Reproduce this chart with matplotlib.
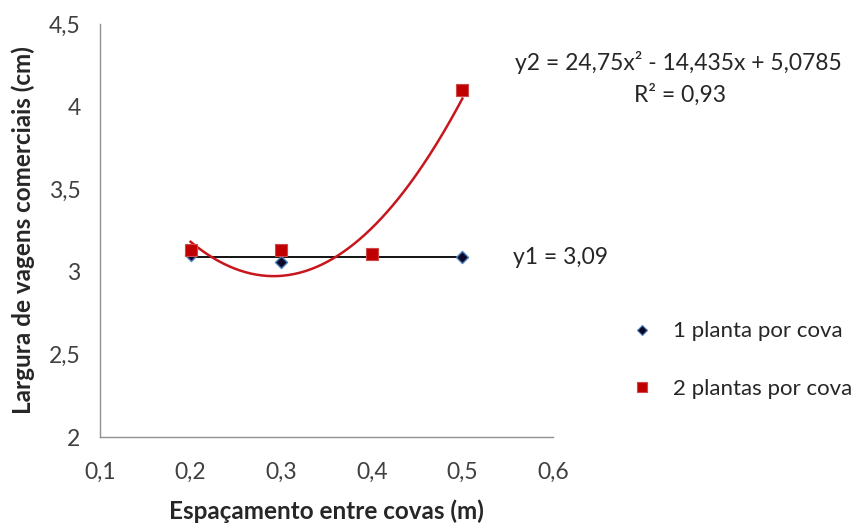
import numpy as np
import matplotlib.pyplot as plt
from matplotlib.lines import Line2D

# espaçamento (m) e largura de vagens (cm)
espacamento = [0.2, 0.3, 0.4, 0.5]
uma_planta = [3.10, 3.06, 3.11, 3.09]
duas_plantas = [3.13, 3.13, 3.11, 4.10]

# ajustes
y1_media = 3.09
coef_y2 = [24.75, -14.435, 5.0785]
r2_y2 = 0.93

x_ticks = [0.1, 0.2, 0.3, 0.4, 0.5, 0.6]
y_ticks = [2, 2.5, 3, 3.5, 4, 4.5]

plt.rcParams['font.family'] = ['Lato', 'DejaVu Sans']

fig = plt.figure(figsize=(8.66, 5.26), dpi=100)
ax = fig.add_axes([0.1155, 0.1692, 0.523, 0.7852])

# linha da média (1 planta) e curva quadrática (2 plantas)
ax.plot([espacamento[0], espacamento[-1]], [y1_media, y1_media],
        color='black', lw=1.3, zorder=2)
xs = np.linspace(espacamento[0], espacamento[-1], 200)
ax.plot(xs, np.polyval(coef_y2, xs), color='#C8161D', lw=1.8, zorder=2)

ax.scatter(espacamento, uma_planta, marker='D', s=38, color='#0A0A28',
           edgecolors='#4F81BD', linewidths=1.0, zorder=3)
ax.scatter(espacamento, duas_plantas, marker='s', s=70, color='#C00000',
           edgecolors='#D04848', linewidths=0.8, zorder=4)

ax.set_xlim(0.1, 0.6)
ax.set_ylim(2, 4.5)
ax.set_xticks(x_ticks)
ax.set_yticks(y_ticks)
ax.set_xticklabels([f'{v:g}'.replace('.', ',') for v in x_ticks])
ax.set_yticklabels([f'{v:g}'.replace('.', ',') for v in y_ticks])
ax.tick_params(length=0, labelsize=16.5, colors='#404040', pad=14)
ax.tick_params(axis='x', pad=18)

for s in ['top', 'right']:
    ax.spines[s].set_visible(False)
for s in ['left', 'bottom']:
    ax.spines[s].set_color('#909090')
    ax.spines[s].set_linewidth(1.0)

ax.set_xlabel('Espaçamento entre covas (m)', fontsize=17.5, fontweight='bold',
              color='#262626', labelpad=12)
ax.set_ylabel('Largura de vagens comerciais (cm)', fontsize=17.5,
              fontweight='bold', color='#262626', labelpad=10)

# equações
fig.text(0.783, 0.882, 'y2 = 24,75x² - 14,435x + 5,0785', fontsize=16.5,
         color='#262626', ha='center', va='center')
fig.text(0.785, 0.819, 'R² = 0,93', fontsize=16.5, color='#262626',
         ha='center', va='center')
fig.text(0.592, 0.510, 'y1 = 3,09', fontsize=16.5, color='#262626',
         ha='left', va='center')

handles = [
    Line2D([], [], ls='none', marker='D', ms=5, color='#0A0A28',
           markeredgecolor='#4F81BD', markeredgewidth=0.8),
    Line2D([], [], ls='none', marker='s', ms=7, color='#C00000',
           markeredgecolor='#D04848', markeredgewidth=0.8),
]
fig.legend(handles, ['1 planta por cova', '2 plantas por cova'],
           loc='center left', bbox_to_anchor=(0.705, 0.315), frameon=False,
           fontsize=16, labelcolor='#262626', handletextpad=0.9,
           labelspacing=1.7, handlelength=1.0)

fig.savefig('out.png', dpi=100)
